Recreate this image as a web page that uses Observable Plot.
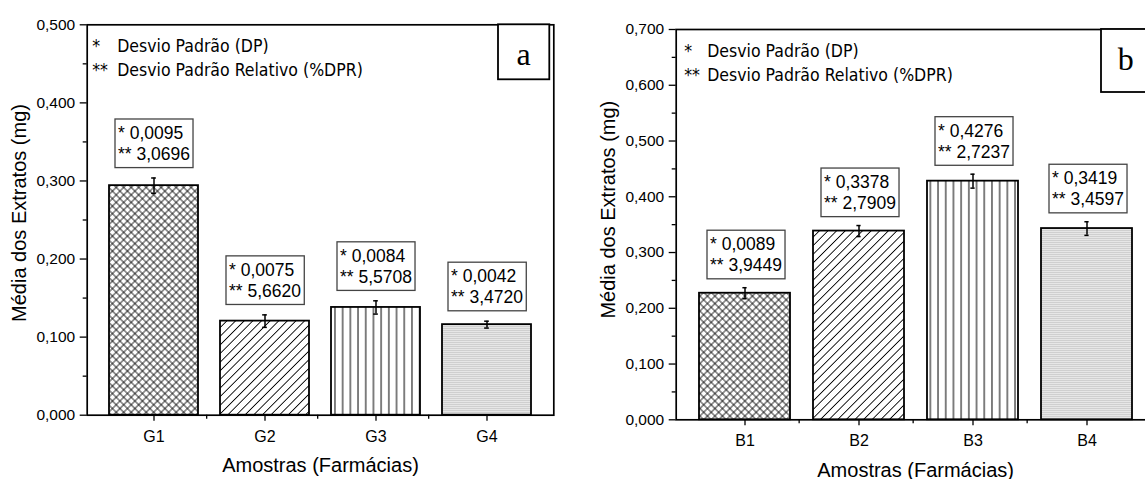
<!DOCTYPE html>
<html>
<head>
<meta charset="utf-8">
<script src="https://cdn.jsdelivr.net/npm/d3@7"></script>
<script src="https://cdn.jsdelivr.net/npm/@observablehq/plot@0.6"></script>
<style>
html, body { margin: 0; padding: 0; background: #fff; overflow: hidden; }
#wrap { position: relative; width: 1145px; height: 479px; overflow: hidden; background: #fff; }
#panelA { position: absolute; left: 0; top: 0; }
#panelB { position: absolute; left: 580px; top: 0; width: 600px; }
#wrap svg { max-width: none !important; display: block; }
</style>
</head>
<body>
<div id="wrap"><div id="panelA"></div><div id="panelB"></div></div>
<script>
// ---------- data ----------
const categoriesA = ["G1", "G2", "G3", "G4"];
const meansA = [0.294, 0.1205, 0.138, 0.116];
const errorsA = [0.0098, 0.0080, 0.0085, 0.0044];
const sdLabelsA = ["0,0095", "0,0075", "0,0084", "0,0042"];
const dprLabelsA = ["3,0696", "5,6620", "5,5708", "3,4720"];
const yTicksA = [0, 0.1, 0.2, 0.3, 0.4, 0.5];

const categoriesB = ["B1", "B2", "B3", "B4"];
const meansB = [0.227, 0.3385, 0.428, 0.343];
const errorsB = [0.0099, 0.0099, 0.0125, 0.0122];
const sdLabelsB = ["0,0089", "0,3378", "0,4276", "0,3419"];
const dprLabelsB = ["3,9449", "2,7909", "2,7237", "3,4597"];
const yTicksB = [0, 0.1, 0.2, 0.3, 0.4, 0.5, 0.6, 0.7];

const legendMarks = ["*", "**"];
const legendLabels = ["Desvio Padrão (DP)", "Desvio Padrão Relativo (%DPR)"];
const yTitle = "Média dos Extratos (mg)";
const xTitle = "Amostras (Farmácias)";

// ---------- drawing ----------
const SANS = "'Liberation Sans', Arial, sans-serif";
const LEGEND_FONT = "'DejaVu Sans Condensed', 'DejaVu Sans', sans-serif";
const fmt = d => d3.format(".3f")(d).replace(".", ",");

function makePanel(cfg) {
  const {container, id, cats, means, errs, sds, dprs, yTicks, letter,
         width, height, mL, mR, mT, mB, annDx, annDy, starDx, labelDx, legendDy,
         yTitleDx, yTitleDy, xTitleDy, boxW, boxH, boxInset, letterDy} = cfg;
  const data = cats.map((c, i) => ({
    cat: c, mean: means[i], err: errs[i],
    label: `* ${sds[i]}\n** ${dprs[i]}`,
    pat: `url(#${id}-p${i})`
  }));
  const step = (width - mL - mR) / cats.length;
  const bw = step * 0.8;
  const capInset = (bw - 9) / 2;
  const minor = yTicks.slice(1).map((t, i) => (t + yTicks[i]) / 2);

  const svg = Plot.plot({
    width, height,
    marginLeft: mL, marginRight: mR, marginTop: mT, marginBottom: mB,
    style: {fontFamily: SANS, background: "white", color: "black", overflow: "visible"},
    x: {domain: cats, padding: 0.2, axis: null, label: null},
    y: {domain: [0, yTicks[yTicks.length - 1]], axis: null, label: null},
    color: {type: "identity"},
    marks: [
      Plot.barY(data, {x: "cat", y: "mean", fill: "pat", stroke: "black", strokeWidth: 1.8}),
      Plot.ruleX(data, {x: "cat", y1: d => d.mean - d.err, y2: d => d.mean + d.err, stroke: "black", strokeWidth: 1.5}),
      Plot.tickY(data, {x: "cat", y: d => d.mean + d.err, insetLeft: capInset, insetRight: capInset, stroke: "black", strokeWidth: 1.5}),
      Plot.tickY(data, {x: "cat", y: d => d.mean - d.err, insetLeft: capInset, insetRight: capInset, stroke: "black", strokeWidth: 1.5}),
      Plot.frame({stroke: "black", strokeWidth: 1.7}),
      Plot.axisY(yTicks, {tickSize: 7, tickPadding: 5, tickFormat: fmt, fontSize: 15.5, label: null, strokeWidth: 1.3}),
      Plot.axisY(minor, {tickSize: 4, tickFormat: () => "", label: null, strokeWidth: 1.3}),
      Plot.axisX(cats, {tickSize: 6, tickPadding: 9, fontSize: 16, label: null, strokeWidth: 1.3}),
      Plot.axisX(cats.slice(1), {tickSize: 4, dx: -step / 2, tickFormat: () => "", label: null, strokeWidth: 1.3}),
      Plot.text(data, {x: "cat", y: d => d.mean + d.err, text: "label", textAnchor: "start",
        lineAnchor: "bottom", lineHeight: 21 / 17.5, dx: annDx, dy: annDy, fontSize: 17.5, fill: "black"}),
      Plot.text([legendMarks.join("\n")], {frameAnchor: "top-left", dx: starDx, dy: legendDy, textAnchor: "start",
        lineAnchor: "bottom", lineHeight: 24 / 17.5, fontSize: 17.5, fontFamily: LEGEND_FONT, fill: "black"}),
      Plot.text([legendLabels.join("\n")], {frameAnchor: "top-left", dx: labelDx, dy: legendDy, textAnchor: "start",
        lineAnchor: "bottom", lineHeight: 24 / 17.5, fontSize: 17.5, fontFamily: LEGEND_FONT, fill: "black"}),
      Plot.text([yTitle], {frameAnchor: "left", rotate: -90, dx: yTitleDx, dy: yTitleDy, textAnchor: "middle",
        lineAnchor: "middle", fontSize: 20, fill: "black"}),
      Plot.text([xTitle], {frameAnchor: "bottom", dy: xTitleDy, textAnchor: "middle",
        lineAnchor: "bottom", fontSize: 20, fill: "black"})
    ]
  });
  document.getElementById(container).appendChild(svg);
  const sel = d3.select(svg);
  sel.selectAll("text").filter(function () { return /Desvio|^\*+$/.test(this.textContent); })
    .style("font-stretch", "condensed");
  // enforce tick label sizes
  sel.selectAll("text").filter(function () { return /^\d,\d{3}$/.test(this.textContent); })
    .style("font-size", "15.5px");
  sel.selectAll("text").filter(function () { return cats.includes(this.textContent); })
    .style("font-size", "16px");

  // hatch patterns
  const defs = sel.insert("defs", ":first-child");
  function pattern(pid, w, h, transform) {
    const p = defs.append("pattern").attr("id", pid).attr("patternUnits", "userSpaceOnUse")
      .attr("width", w).attr("height", h);
    if (transform) p.attr("patternTransform", transform);
    return p;
  }
  let s = 5.3;
  let p = pattern(`${id}-p0`, s, s, "rotate(45)");
  p.append("rect").attr("width", s).attr("height", s).attr("fill", "white");
  p.append("line").attr("x1", s / 2).attr("y1", 0).attr("x2", s / 2).attr("y2", s).attr("stroke", "black").attr("stroke-width", 0.8);
  p.append("line").attr("x1", 0).attr("y1", s / 2).attr("x2", s).attr("y2", s / 2).attr("stroke", "black").attr("stroke-width", 0.8);
  s = 6.1;
  p = pattern(`${id}-p1`, s, s, "rotate(45)");
  p.append("rect").attr("width", s).attr("height", s).attr("fill", "white");
  p.append("line").attr("x1", s / 2).attr("y1", 0).attr("x2", s / 2).attr("y2", s).attr("stroke", "black").attr("stroke-width", 0.9);
  s = 7.7;
  p = pattern(`${id}-p2`, s, s, null);
  p.append("rect").attr("width", s).attr("height", s).attr("fill", "white");
  p.append("line").attr("x1", s / 2).attr("y1", 0).attr("x2", s / 2).attr("y2", s).attr("stroke", "black").attr("stroke-width", 1);
  p = pattern(`${id}-p3`, 4, 2, null);
  p.append("rect").attr("width", 4).attr("height", 2).attr("fill", "#e6e6e6");
  p.append("line").attr("x1", 0).attr("y1", 0.5).attr("x2", 4).attr("y2", 0.5).attr("stroke", "#cfcfcf").attr("stroke-width", 1);

  // boxes around the per-bar annotations
  sel.selectAll("text").filter(function () { return /^\* \d/.test(this.textContent); }).each(function () {
    const bb = this.getBBox();
    const r = document.createElementNS("http://www.w3.org/2000/svg", "rect");
    r.setAttribute("x", bb.x - 3);
    r.setAttribute("y", bb.y - 4.2);
    r.setAttribute("width", bb.width + 6);
    r.setAttribute("height", bb.height + 7.6);
    r.setAttribute("fill", "white");
    r.setAttribute("stroke", "#444");
    r.setAttribute("stroke-width", 1.3);
    const t = this.getAttribute("transform");
    if (t) r.setAttribute("transform", t);
    this.parentNode.insertBefore(r, this);
  });

  // panel letter box
  const bx = width - mR - boxInset - boxW;
  sel.append("rect").attr("x", bx).attr("y", mT).attr("width", boxW).attr("height", boxH)
    .attr("fill", "white").attr("stroke", "black").attr("stroke-width", 1.8);
  sel.append("text").attr("x", bx + boxW / 2).attr("y", mT + letterDy)
    .attr("text-anchor", "middle").attr("font-family", "'Liberation Serif', 'Times New Roman', serif")
    .attr("font-size", 32).attr("fill", "black").text(letter);
}

makePanel({
  container: "panelA", id: "pa", cats: categoriesA, means: meansA, errs: errorsA,
  sds: sdLabelsA, dprs: dprLabelsA, yTicks: yTicksA, letter: "a",
  width: 560, height: 479, mL: 86.7, mR: 6.7, mT: 24.3, mB: 64.3,
  annDx: -36, annDy: -17.8, starDx: 5, labelDx: 30, legendDy: 50.7,
  yTitleDx: -67.7, yTitleDy: -7, xTitleDy: 57,
  boxW: 51.3, boxH: 55, boxInset: 4, letterDy: 41
});

makePanel({
  container: "panelB", id: "pb", cats: categoriesB, means: meansB, errs: errorsB,
  sds: sdLabelsB, dprs: dprLabelsB, yTicks: yTicksB, letter: "b",
  width: 585, height: 479, mL: 95.7, mR: 10.5, mT: 29, mB: 59.7,
  annDx: -35, annDy: -16.3, starDx: 8, labelDx: 31, legendDy: 51,
  yTitleDx: -67.2, yTitleDy: -15, xTitleDy: 56.7,
  boxW: 49.5, boxH: 63, boxInset: 4, letterDy: 41
});
</script>
</body>
</html>
